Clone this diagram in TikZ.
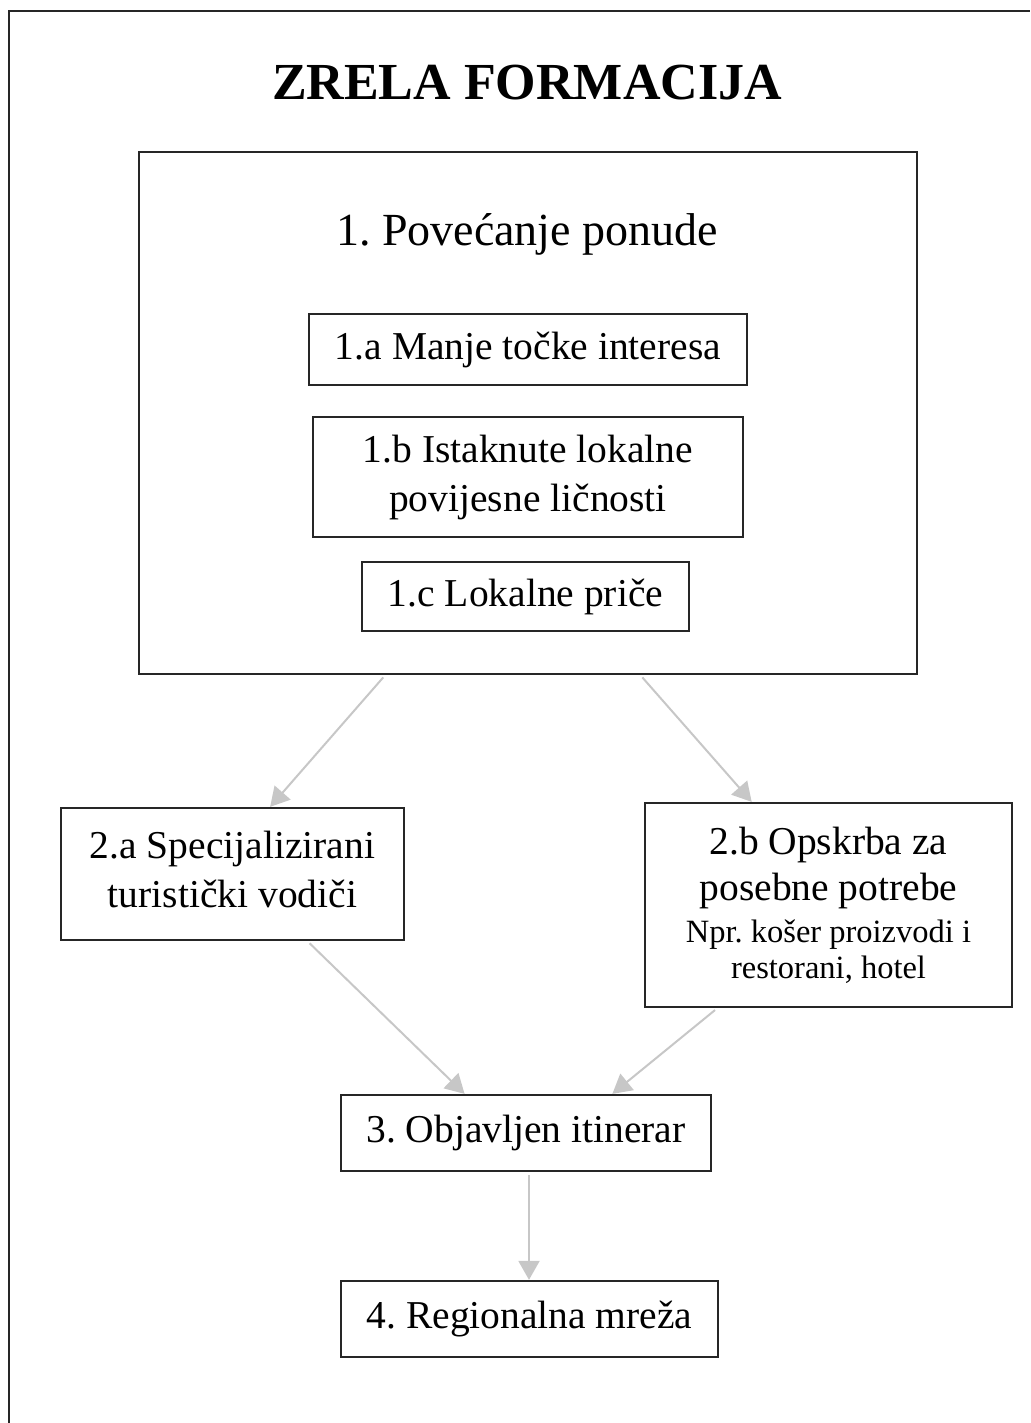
\documentclass[tikz,border=0pt]{standalone}
\usepackage{fontspec}
\setmainfont{Liberation Serif}
\usetikzlibrary{arrows.meta,calc}
\frenchspacing

\newcommand{\bodyfont}{\fontsize{39.5}{49}\selectfont}
\newcommand{\notefont}{\fontsize{32.5}{38}\selectfont}

\tikzset{
    box/.style={draw=black!85,line width=2.3pt,inner sep=0pt,align=center,font=\bodyfont},
    flow/.style={draw=black!22,line width=2pt,shorten <=3pt,
        -{Triangle[length=19pt,width=21pt]}},
}

\begin{document}
\begin{tikzpicture}[x=1pt,y=-1pt]
    \useasboundingbox (0,0) rectangle (1030,1423);
    % page frame, cut by the page edge on the right and below
    \draw[black!85,line width=2.4pt] (9,1423) -- (9,11) -- (1030,11);

    \node[font=\fontsize{52}{60}\selectfont\bfseries] (title) at (527,83) {ZRELA FORMACIJA};

    % step 1 with its three parts
    \node[box,minimum width=778,minimum height=522] (p1) at (528,413) {};
    \node[font=\fontsize{46}{54}\selectfont] (p1head) at (527,234) {1. Povećanje ponude};
    \node[box,minimum width=438,minimum height=71] (p1a) at (528,349.5) {1.a Manje točke interesa};
    \node[box,minimum width=430,minimum height=120] (p1b) at (528,477)
        {1.b Istaknute lokalne\\ povijesne ličnosti};
    \node[box,minimum width=327,minimum height=69] (p1c) at (525.5,596.5) {1.c Lokalne priče};

    % step 2
    \node[box,minimum width=343,minimum height=132] (p2a) at (232.5,874)
        {2.a Specijalizirani\\ turistički vodiči\\[-40pt]\mbox{}};
    \node[box,minimum width=367,minimum height=204] (p2b) at (828.5,905)
        {2.b Opskrba za\\[-3pt] posebne potrebe\\[-7pt] \notefont Npr. košer proizvodi i\\[-13pt] \notefont restorani, hotel};

    % steps 3 and 4
    \node[box,minimum width=370,minimum height=76] (p3) at (526,1133) {3. Objavljen itinerar};
    \node[box,minimum width=377,minimum height=76] (p4) at (529.5,1319) {4. Regionalna mreža};

    \draw[flow] ($(p1.south west)!0.317!(p1.south east)$) -- ($(p2a.north west)!0.609!(p2a.north east)$);
    \draw[flow] ($(p1.south west)!0.644!(p1.south east)$) -- ($(p2b.north west)!0.292!(p2b.north east)$);
    \draw[flow] ($(p2a.south west)!0.717!(p2a.south east)$) -- ($(p3.north west)!0.335!(p3.north east)$);
    \draw[flow] ($(p2b.south west)!0.199!(p2b.south east)$) -- ($(p3.north west)!0.732!(p3.north east)$);
    \draw[flow] ($(p3.south)+(3,0)$) -- ($(p4.north)+(-0.5,0)$);
\end{tikzpicture}
\end{document}
